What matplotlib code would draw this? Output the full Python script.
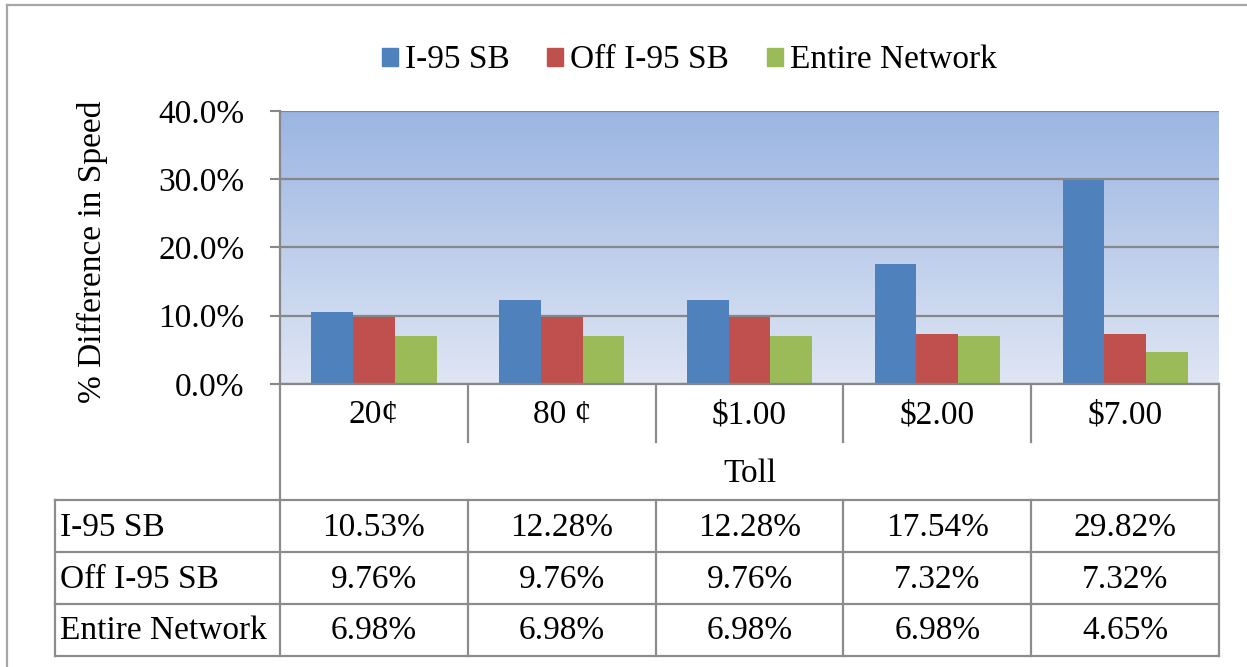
import matplotlib.pyplot as plt
import numpy as np
from matplotlib.patches import Rectangle
from matplotlib.colors import LinearSegmentedColormap

tolls = ['20¢', '80 ¢', '$1.00', '$2.00', '$7.00']
series = ['I-95 SB', 'Off I-95 SB', 'Entire Network']
i95_sb = [10.53, 12.28, 12.28, 17.54, 29.82]
off_i95_sb = [9.76, 9.76, 9.76, 7.32, 7.32]
entire_network = [6.98, 6.98, 6.98, 6.98, 4.65]
colors = ['#4F81BD', '#C0504D', '#9BBB59']
values = [i95_sb, off_i95_sb, entire_network]

plt.rcParams['font.family'] = ['Liberation Serif', 'DejaVu Serif']
FS = 24
W, H = 1247, 667
fig = plt.figure(figsize=(W / 100, H / 100), dpi=100)

# pixel-space overlay for the frame, legend and data table
ov = fig.add_axes([0, 0, 1, 1])
ov.set_xlim(0, W)
ov.set_ylim(H, 0)
ov.axis('off')

left, right, top, bottom = 280, 1219, 111, 384
ax = fig.add_axes([left / W, 1 - bottom / H, (right - left) / W, (bottom - top) / H])

n = len(tolls)
x = np.arange(n)
w = 1 / 4.5
grad = LinearSegmentedColormap.from_list('bg', ['#DFE6F4', '#9BB5E2'])
ax.imshow(np.linspace(0, 1, 256).reshape(-1, 1), cmap=grad, origin='lower',
          extent=[-0.5, n - 0.5, 0, 40], aspect='auto', zorder=0)
for k, (vals, c) in enumerate(zip(values, colors)):
    ax.bar(x + (k - 1) * w, vals, width=w, color=c, zorder=3, label=series[k])

ax.set_xlim(-0.5, n - 0.5)
ax.set_ylim(0, 40)
ax.set_yticks(np.arange(0, 41, 10))
ax.set_yticklabels([f'{v:.1f}%' for v in np.arange(0, 41, 10)], fontsize=FS)
ax.set_xticks([])
ax.tick_params(axis='y', direction='out', length=7.5, width=1.5, color='#878787', pad=18)
ax.grid(axis='y', color='#878787', linewidth=1.6, zorder=1)
ax.set_axisbelow(False)
for s in ['top', 'right']:
    ax.spines[s].set_visible(False)
for s in ['left', 'bottom']:
    ax.spines[s].set_color('#878787')
    ax.spines[s].set_linewidth(1.6)
    ax.spines[s].set_zorder(4)

ov.text(92, 252, '% Difference in Speed', rotation=90, ha='center', va='center', fontsize=FS)

# legend
lx = [382, 547, 767]
for k in range(3):
    ov.add_patch(Rectangle((lx[k], 48), 16, 18, color=colors[k]))
    ov.text(lx[k] + 23, 60, series[k], ha='left', va='center', fontsize=FS)

# outer frame
lc = '#A6A6A6'
ov.plot([7, W], [5, 5], color=lc, lw=1.6)
ov.plot([7, 7], [5, H], color=lc, lw=1.6)

# data table under the chart
gc = '#8C8C8C'
col_w = (right - left) / n
edges = [left + col_w * i for i in range(n + 1)]
for xe in edges[1:-1]:
    ov.plot([xe, xe], [384, 442], color=gc, lw=1.6)
    ov.plot([xe, xe], [500, 656], color=gc, lw=1.6)
ov.plot([left, left], [384, 656], color=gc, lw=1.6)
ov.plot([right, right], [384, 656], color=gc, lw=1.6)
ov.plot([55, 55], [500, 656], color=gc, lw=1.6)
for ye in [500, 552, 604, 656]:
    ov.plot([55, right], [ye, ye], color=gc, lw=1.6)

for i, t in enumerate(tolls):
    ov.text(left + col_w * (i + 0.5), 415, t, ha='center', va='center', fontsize=FS)
ov.text((left + right) / 2, 474, 'Toll', ha='center', va='center', fontsize=FS)

row_y = [528, 580, 631]
for r, (name, vals) in enumerate(zip(series, values)):
    ov.text(60, row_y[r], name, ha='left', va='center', fontsize=FS)
    for i, v in enumerate(vals):
        ov.text(left + col_w * (i + 0.5), row_y[r], f'{v:.2f}%', ha='center', va='center', fontsize=FS)

fig.savefig('out.png', dpi=100)
